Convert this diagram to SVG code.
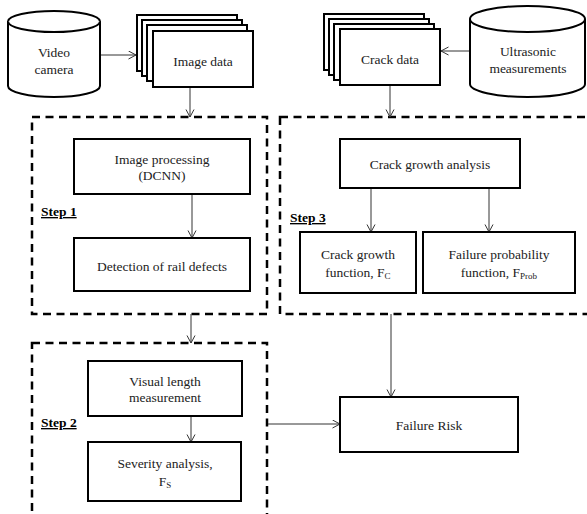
<svg xmlns="http://www.w3.org/2000/svg" width="587" height="514" viewBox="0 0 587 514">
<defs>
<style>
.bg{fill:#fff}
.box{fill:#fff;stroke:#000;stroke-width:2}
.dash{fill:none;stroke:#000;stroke-width:2.5;stroke-dasharray:8 5.5}
.conn{fill:none;stroke:#333;stroke-width:1}
text{font-family:'Liberation Serif','Times New Roman','DejaVu Serif',serif}
.t{font-size:13.5px;fill:#222;text-anchor:middle}
.sub{font-size:9px}
.step{font-size:13.5px;font-weight:bold;fill:#000;text-decoration:underline}
</style>
<marker id="arr" markerUnits="userSpaceOnUse" markerWidth="10" markerHeight="10" refX="8" refY="4.5" orient="auto">
<path d="M0.5,0.5 L8,4.5 L0.5,8.5" fill="none" stroke="#333" stroke-width="1"/>
</marker>
</defs>
<rect class="bg" x="0" y="0" width="587" height="514"/>

<g id="step1-frame"><rect class="dash" x="32" y="117" width="235" height="197"/><text class="step" x="41" y="216">Step 1</text></g>
<g id="step3-frame"><rect class="dash" x="280" y="117" width="320" height="197"/><text class="step" x="290" y="222">Step 3</text></g>
<g id="step2-frame"><rect class="dash" x="32" y="343" width="235" height="200"/><text class="step" x="41" y="427">Step 2</text></g>

<g id="connectors">
<line class="conn" x1="100" y1="55" x2="136" y2="55" marker-end="url(#arr)"/>
<line class="conn" x1="470" y1="51" x2="441" y2="51" marker-end="url(#arr)"/>
<line class="conn" x1="190" y1="87" x2="190" y2="117" marker-end="url(#arr)"/>
<line class="conn" x1="390" y1="85" x2="390" y2="117" marker-end="url(#arr)"/>
<line class="conn" x1="192" y1="194" x2="192" y2="238" marker-end="url(#arr)"/>
<line class="conn" x1="371" y1="188" x2="371" y2="232" marker-end="url(#arr)"/>
<line class="conn" x1="489" y1="188" x2="489" y2="232" marker-end="url(#arr)"/>
<line class="conn" x1="191" y1="314" x2="191" y2="343" marker-end="url(#arr)"/>
<line class="conn" x1="191" y1="416" x2="191" y2="442" marker-end="url(#arr)"/>
<line class="conn" x1="391" y1="314" x2="391" y2="397" marker-end="url(#arr)"/>
<line class="conn" x1="268" y1="424" x2="340" y2="424" marker-end="url(#arr)"/>
</g>

<g id="video-camera">
<path class="box" d="M8,21.5 L8,86 A46,11 0 0 0 100,86 L100,21.5 A46,10.5 0 0 0 8,21.5 Z"/>
<path class="box" d="M8,21.5 A46,10.5 0 0 0 100,21.5"/>
<text class="t" x="54" y="57">Video</text>
<text class="t" x="54" y="74">camera</text>
</g>

<g id="image-data">
<rect class="box" x="137" y="15" width="100" height="56"/>
<rect class="box" x="142" y="20" width="100" height="56"/>
<rect class="box" x="147" y="25" width="100" height="56"/>
<rect class="box" x="153" y="31" width="100" height="56"/>
<text class="t" x="203" y="66">Image data</text>
</g>

<g id="crack-data">
<rect class="box" x="324" y="14" width="100" height="56"/>
<rect class="box" x="329" y="19" width="100" height="56"/>
<rect class="box" x="334" y="24" width="100" height="56"/>
<rect class="box" x="340" y="29" width="100" height="56"/>
<text class="t" x="390" y="64">Crack data</text>
</g>

<g id="ultrasonic">
<path class="box" d="M470,19 L470,84 A57.5,13 0 0 0 585,84 L585,19 A57.5,13 0 0 0 470,19 Z"/>
<path class="box" d="M470,19 A57.5,13 0 0 0 585,19"/>
<text class="t" x="528" y="56">Ultrasonic</text>
<text class="t" x="528" y="73">measurements</text>
</g>

<g id="image-processing">
<rect class="box" x="74" y="139" width="176" height="55"/>
<text class="t" x="162" y="164">Image processing</text>
<text class="t" x="162" y="180">(DCNN)</text>
</g>

<g id="detection">
<rect class="box" x="74" y="238" width="176" height="53"/>
<text class="t" x="162" y="271">Detection of rail defects</text>
</g>

<g id="crack-growth-analysis">
<rect class="box" x="340" y="139" width="180" height="49"/>
<text class="t" x="430" y="169">Crack growth analysis</text>
</g>

<g id="crack-growth-function">
<rect class="box" x="300" y="232" width="116" height="61"/>
<text class="t" x="358" y="259">Crack growth</text>
<text class="t" x="358" y="277">function, F<tspan class="sub" dy="2">C</tspan></text>
</g>

<g id="failure-probability">
<rect class="box" x="423" y="232" width="152" height="61"/>
<text class="t" x="499" y="259">Failure probability</text>
<text class="t" x="499" y="277">function, F<tspan class="sub" dy="2">Prob</tspan></text>
</g>

<g id="visual-length">
<rect class="box" x="88" y="361" width="154" height="55"/>
<text class="t" x="165" y="386">Visual length</text>
<text class="t" x="165" y="402">measurement</text>
</g>

<g id="severity">
<rect class="box" x="88" y="442" width="153" height="59"/>
<text class="t" x="165" y="468">Severity analysis,</text>
<text class="t" x="165" y="486">F<tspan class="sub" dy="2">S</tspan></text>
</g>

<g id="failure-risk">
<rect class="box" x="340" y="397" width="178" height="55"/>
<text class="t" x="429" y="430">Failure Risk</text>
</g>
</svg>
